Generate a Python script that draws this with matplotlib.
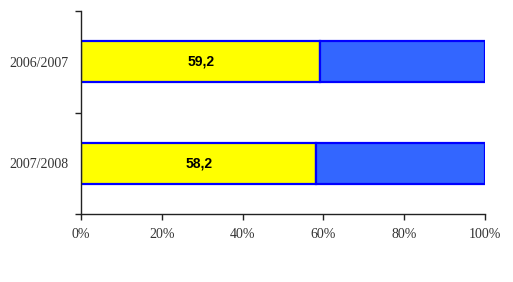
import matplotlib
matplotlib.use("Agg")
import matplotlib.pyplot as plt
from matplotlib.ticker import FixedLocator, PercentFormatter

categories = ["2006/2007", "2007/2008"]
series_a = [59.2, 58.2]
series_b = [40.8, 41.8]
labels = ["59,2", "58,2"]
xticks = [0, 20, 40, 60, 80, 100]

fig = plt.figure(figsize=(5.13, 2.82), dpi=100)
ax = fig.add_axes([81/513, 1-214/282, (485-81)/513, (214-11)/282])

ypos = [1, 0]
ax.barh(ypos, series_a, height=0.4, color="#FFFF00", edgecolor="#0000FF", linewidth=1.6)
ax.barh(ypos, series_b, left=series_a, height=0.4, color="#3366FF", edgecolor="#0000FF", linewidth=1.6)
for y, a, lab in zip(ypos, series_a, labels):
    ax.text(a/2, y, lab, ha="center", va="center", fontsize=10, fontweight="bold",
            family="Liberation Sans", color="black")

ax.set_xlim(0, 100)
ax.set_ylim(-0.5, 1.5)
ax.set_xticks(xticks)
ax.xaxis.set_major_formatter(PercentFormatter(decimals=0))
ax.set_yticks(ypos)
ax.set_yticklabels(categories)
ax.yaxis.set_minor_locator(FixedLocator([-0.5, 0.5, 1.5]))
ax.tick_params(axis="y", which="major", length=0, pad=9)
ax.tick_params(axis="y", which="minor", length=4, width=1, color="#222222")
ax.tick_params(axis="x", length=4, width=1, color="#222222", pad=6)
for lab in ax.get_xticklabels() + ax.get_yticklabels():
    lab.set_family("Liberation Serif")
    lab.set_fontsize(10)
    lab.set_color("#333333")
for s in ["top", "right"]:
    ax.spines[s].set_visible(False)
for s in ["left", "bottom"]:
    ax.spines[s].set_color("#222222")
    ax.spines[s].set_linewidth(1)

fig.savefig("out.png", dpi=100)
